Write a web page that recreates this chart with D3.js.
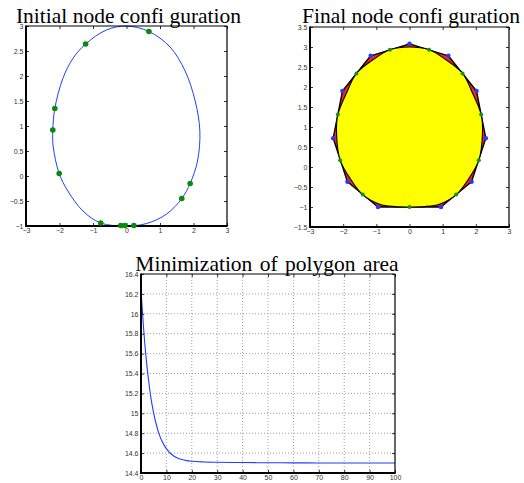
<!DOCTYPE html>
<html>
<head>
<meta charset="utf-8">
<script src="https://cdn.jsdelivr.net/npm/d3@7"></script>
<style>
  html, body { margin: 0; padding: 0; background: #ffffff; }
  svg { display: block; }
  .tick text { font-family: "Liberation Sans", Arial, sans-serif; font-size: 7px; fill: #333; }
  .title { font-family: "Liberation Serif", "Times New Roman", serif; font-size: 21.5px; fill: #000; }
</style>
</head>
<body>
<svg id="chart" width="524" height="483"></svg>
<script>
// ---------- Data ----------
// Panel 1: initial curve and initial nodes
const initCurveX = [0, 0.67, 1.3, 1.75, 2.05, 2.19, 2.12, 1.9, 1.65, 1.2, 0.6, 0, -0.77, -1.3, -1.75, -2.01, -2.19, -2.2, -2.14, -1.9, -1.6, -1.22, -0.6];
const initCurveY = [3.0, 2.89, 2.58, 2.1, 1.5, 0.9, 0.3, -0.15, -0.45, -0.76, -0.95, -1.0, -0.94, -0.7, -0.3, 0.05, 0.6, 0.92, 1.35, 1.95, 2.35, 2.64, 2.92];
const initNodeX = [0.67, -1.22, -2.14, -2.2, -2.01, -0.77, -0.17, -0.05, 0.22, 1.65, 1.9];
const initNodeY = [2.89, 2.64, 1.35, 0.92, 0.05, -0.94, -0.99, -0.99, -0.99, -0.45, -0.15];

// Panel 2: final shape, polygon vertices and edge midpoints
const shapeX = [0, 0.59, 1.1, 1.6, 1.9, 2.16, 2.2, 2.09, 1.78, 1.41, 0.9, 0.45, 0, -0.45, -0.9, -1.41, -1.78, -2.09, -2.2, -2.16, -1.9, -1.6, -1.1, -0.59];
const shapeY = [3.0, 2.93, 2.68, 2.34, 1.85, 1.31, 0.85, 0.17, -0.3, -0.69, -0.93, -0.99, -1.0, -0.99, -0.93, -0.69, -0.3, 0.17, 0.85, 1.31, 1.85, 2.34, 2.68, 2.93];
const vertX = [0, 1.17, 2.02, 2.3, 1.87, 0.95, -0.95, -1.87, -2.3, -2.02, -1.17];
const vertY = [3.08, 2.78, 1.9, 0.72, -0.37, -1.0, -1.0, -0.37, 0.72, 1.9, 2.78];
const midX = [0.59, 1.6, 2.16, 2.09, 1.41, 0, -1.41, -2.09, -2.16, -1.6, -0.59];
const midY = [2.93, 2.34, 1.31, 0.17, -0.69, -1.0, -0.69, 0.17, 1.31, 2.34, 2.93];

// Panel 3: polygon area per iteration
const iterations = [0, 1, 2, 3, 4, 5, 6, 7, 8, 9, 10, 11, 12, 13, 14, 15, 16, 18, 20, 25, 30, 40, 50, 60, 70, 80, 90, 100];
const areaValues = [16.24, 15.86, 15.56, 15.33, 15.14, 15.0, 14.89, 14.80, 14.735, 14.685, 14.645, 14.612, 14.588, 14.569, 14.555, 14.543, 14.535, 14.524, 14.518, 14.511, 14.508, 14.505, 14.503, 14.502, 14.501, 14.5, 14.5, 14.5];

// Ticks
const p1XTicks = [-3, -2, -1, 0, 1, 2, 3];
const p1YTicks = [-1, -0.5, 0, 0.5, 1, 1.5, 2, 2.5, 3];
const p2XTicks = [-3, -2, -1, 0, 1, 2, 3];
const p2YTicks = [-1.5, -1, -0.5, 0, 0.5, 1, 1.5, 2, 2.5, 3, 3.5];
const p3XTicks = [0, 10, 20, 30, 40, 50, 60, 70, 80, 90, 100];
const p3YTicks = [14.4, 14.6, 14.8, 15, 15.2, 15.4, 15.6, 15.8, 16, 16.2, 16.4];

const titles = ["Initial node confi guration", "Final node confi guration", "Minimization of polygon area"];

// ---------- Drawing ----------
const svg = d3.select("#chart");
const fmt = d => String(d).replace("-", "\u2212");

function frame(g, x, y, xt, yt) {
  const [x0, x1] = x.range();
  const [y0, y1] = y.range(); // y0 bottom, y1 top
  const tk = 3;
  const ax = (axis, tr, labels) => {
    const a = g.append("g").attr("transform", tr).call(axis);
    a.select(".domain").remove();
    a.selectAll(".tick line").attr("stroke", "#000").attr("stroke-width", 0.8);
    if (!labels) a.selectAll(".tick text").remove();
    return a;
  };
  const bx = ax(d3.axisBottom(x).tickValues(xt).tickSizeInner(-tk).tickSizeOuter(0).tickPadding(5).tickFormat(fmt), `translate(0,${y0})`, true);
  bx.selectAll(".tick text").attr("dy", "0.71em").attr("y", 2.5);
  ax(d3.axisTop(x).tickValues(xt).tickSizeInner(-tk).tickSizeOuter(0), `translate(0,${y1})`, false);
  const ly = ax(d3.axisLeft(y).tickValues(yt).tickSizeInner(-tk).tickSizeOuter(0).tickPadding(2).tickFormat(fmt), `translate(${x0},0)`, true);
  ly.selectAll(".tick text").attr("x", -2.5);
  ax(d3.axisRight(y).tickValues(yt).tickSizeInner(-tk).tickSizeOuter(0), `translate(${x1},0)`, false);
  // box: thin top/right, thick left/bottom
  g.append("line").attr("x1", x0).attr("x2", x1).attr("y1", y1).attr("y2", y1).attr("stroke", "#000").attr("stroke-width", 1);
  g.append("line").attr("x1", x1).attr("x2", x1).attr("y1", y1).attr("y2", y0).attr("stroke", "#000").attr("stroke-width", 1.2);
  g.append("line").attr("x1", x0).attr("x2", x0).attr("y1", y1 - 0.5).attr("y2", y0 + 1).attr("stroke", "#000").attr("stroke-width", 2);
  g.append("line").attr("x1", x0 - 1).attr("x2", x1 + 0.6).attr("y1", y0).attr("y2", y0).attr("stroke", "#000").attr("stroke-width", 2);
}

// Panel 1
{
  const g = svg.append("g");
  const x = d3.scaleLinear().domain([-3, 3]).range([26, 227]);
  const y = d3.scaleLinear().domain([-1, 3]).range([226, 26]);
  const pts = initCurveX.map((v, i) => [v, initCurveY[i]]);
  g.append("path").datum(pts)
    .attr("d", d3.line().x(d => x(d[0])).y(d => y(d[1])).curve(d3.curveCatmullRomClosed))
    .attr("fill", "none").attr("stroke", "#2040ff").attr("stroke-width", 1);
  frame(g, x, y, p1XTicks, p1YTicks);
  g.selectAll("circle.node").data(initNodeX.map((v, i) => [v, initNodeY[i]])).join("circle")
    .attr("cx", d => x(d[0])).attr("cy", d => y(d[1])).attr("r", 2.8).attr("fill", "#0a8a0a");
  g.append("text").attr("class", "title").attr("x", 128.5).attr("y", 23).attr("text-anchor", "middle").text(titles[0]);
}

// Panel 2
{
  const g = svg.append("g");
  const x = d3.scaleLinear().domain([-3, 3]).range([310, 509]);
  const y = d3.scaleLinear().domain([-1.5, 3.5]).range([227, 27]);
  const poly = vertX.map((v, i) => [v, vertY[i]]);
  g.append("path").attr("d", d3.line().x(d => x(d[0])).y(d => y(d[1])).curve(d3.curveLinearClosed)(poly))
    .attr("fill", "#ff2a00").attr("stroke", "#000").attr("stroke-width", 1.4).attr("stroke-linejoin", "round");
  const shp = shapeX.map((v, i) => [v, shapeY[i]]);
  g.append("path").attr("d", d3.line().x(d => x(d[0])).y(d => y(d[1])).curve(d3.curveCatmullRomClosed)(shp))
    .attr("fill", "#ffff00").attr("stroke", "#000").attr("stroke-width", 1.1);
  frame(g, x, y, p2XTicks, p2YTicks);
  g.selectAll("circle.v").data(poly).join("circle").attr("class", "v")
    .attr("cx", d => x(d[0])).attr("cy", d => y(d[1])).attr("r", 2.3).attr("fill", "#1f3cff");
  g.selectAll("circle.m").data(midX.map((v, i) => [v, midY[i]])).join("circle").attr("class", "m")
    .attr("cx", d => x(d[0])).attr("cy", d => y(d[1])).attr("r", 2).attr("fill", "#129412");
  g.append("text").attr("class", "title").attr("x", 411).attr("y", 23).attr("text-anchor", "middle").text(titles[1]);
}

// Panel 3
{
  const g = svg.append("g");
  const x = d3.scaleLinear().domain([0, 100]).range([141, 395]);
  const y = d3.scaleLinear().domain([14.4, 16.4]).range([473, 274]);
  const grid = g.append("g").attr("stroke", "#888").attr("stroke-width", 0.8).attr("stroke-dasharray", "1,2");
  grid.selectAll("line.gx").data(p3XTicks.slice(1, -1)).join("line")
    .attr("x1", d => x(d)).attr("x2", d => x(d)).attr("y1", y.range()[1]).attr("y2", y.range()[0]);
  grid.selectAll("line.gy").data(p3YTicks.slice(1, -1)).join("line")
    .attr("y1", d => y(d)).attr("y2", d => y(d)).attr("x1", x.range()[0]).attr("x2", x.range()[1]);
  g.append("path").datum(iterations.map((v, i) => [v, areaValues[i]]))
    .attr("d", d3.line().x(d => x(d[0])).y(d => y(d[1])).curve(d3.curveMonotoneX))
    .attr("fill", "none").attr("stroke", "#1f3fff").attr("stroke-width", 1.1);
  frame(g, x, y, p3XTicks, p3YTicks);
  g.append("text").attr("class", "title").attr("x", 267).attr("y", 271).attr("text-anchor", "middle")
    .attr("word-spacing", "2px").text(titles[2]);
}
</script>
</body>
</html>
